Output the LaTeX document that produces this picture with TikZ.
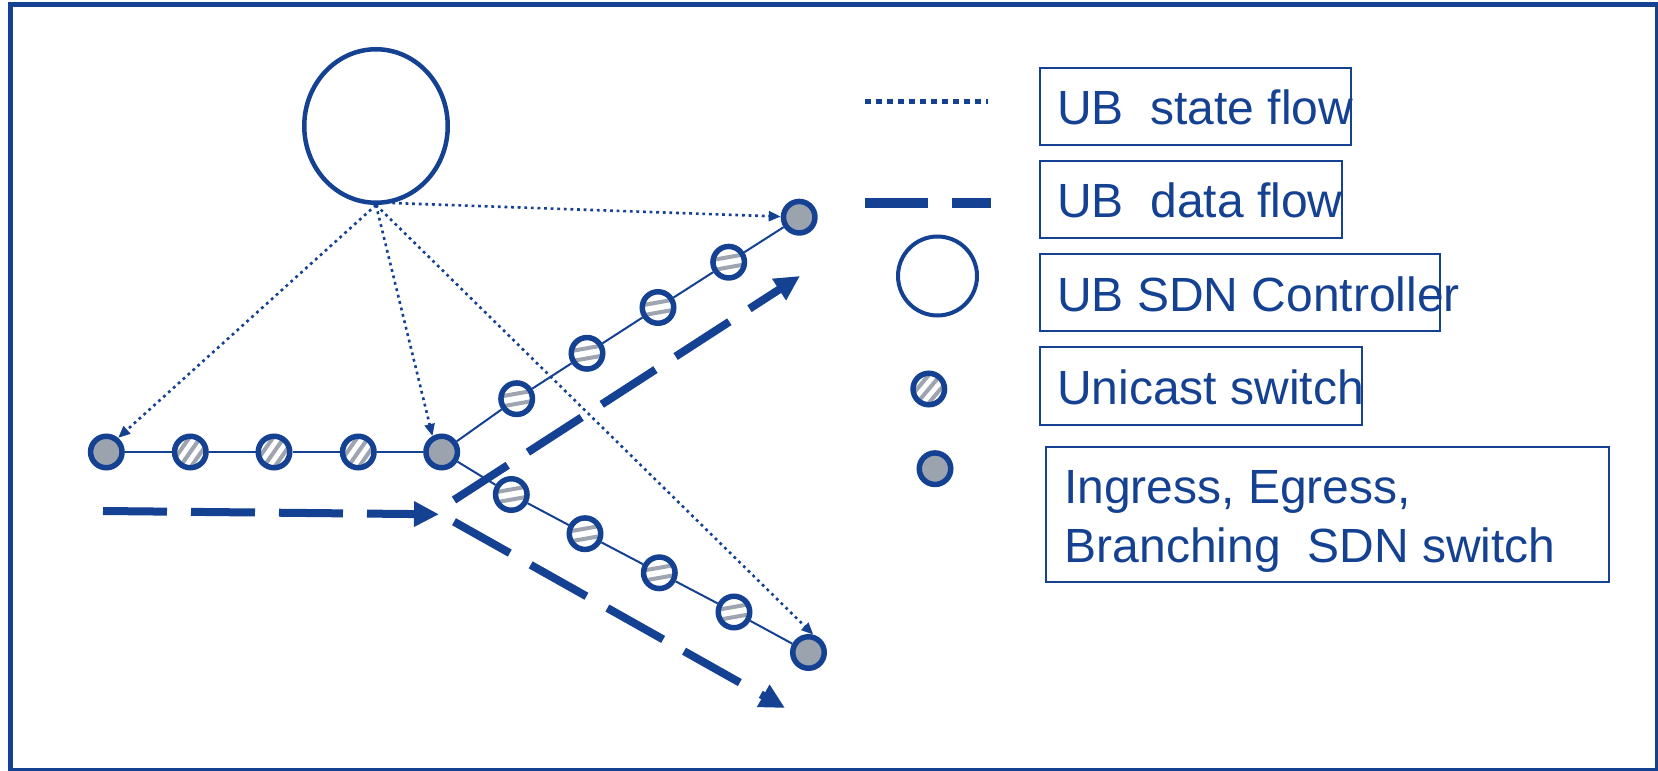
\documentclass[tikz,border=0pt]{standalone}
\usepackage{fontspec}
\setmainfont{Liberation Sans}
\usetikzlibrary{arrows.meta,shapes.geometric,calc}
\definecolor{ubblue}{RGB}{20,65,145}
\definecolor{swgray}{RGB}{155,163,174}
\definecolor{stripegray}{RGB}{158,165,176}
% gray stripes inside a unicast switch: #1 = angle, #2 = offsets of the stripes
\newcommand\swstripes[2]{%
  \foreach \k in {#2}{%
    \draw[stripegray, line width=4pt]
      ($(path picture bounding box.center)+({25*cos(#1)-\k*sin(#1)},{-25*sin(#1)-\k*cos(#1)})$) --
      ($(path picture bounding box.center)+({-25*cos(#1)-\k*sin(#1)},{25*sin(#1)-\k*cos(#1)})$);}}
\begin{document}
\begin{tikzpicture}[x=1pt, y=-1pt,
  sw/.style={circle, draw=ubblue, line width=5.5pt, minimum size=31.5pt, inner sep=0pt},
  edgesw/.style={sw, fill=swgray},
  unisw/.style 2 args={sw, fill=white, path picture={\swstripes{#1}{#2}}},
  ctrlnode/.style={ellipse, draw=ubblue, line width=4.5pt, inner sep=0pt,
    minimum width=143.5pt, minimum height=153.5pt},
  ctrlleg/.style={circle, draw=ubblue, line width=4pt, inner sep=0pt, minimum size=79pt},
  link/.style={draw=ubblue, line width=2pt},
  state/.style={draw=ubblue, line width=2.6pt, dash pattern=on 2.8pt off 3.8pt,
    -{Triangle[length=12pt, width=10pt]}},
  data/.style={draw=ubblue, line width=8pt, dash pattern=on 64pt off 24pt,
    -{Triangle[length=25pt, width=24pt]}},
  legstate/.style={draw=ubblue, line width=5pt, dash pattern=on 6pt off 5pt},
  legdata/.style={draw=ubblue, line width=10pt, dash pattern=on 63pt off 24pt},
  legbox/.style={draw=ubblue, line width=2pt},
  legtext/.style={anchor=base west, inner sep=0pt, text=ubblue,
    font=\fontsize{48}{58}\selectfont}]

\useasboundingbox (0,0) rectangle (1658,771);

% outer frame
\draw[ubblue, line width=4.7pt] (10.3,4.2) rectangle (1657,770.5);

% SDN controller
\node[ctrlnode] (ctrl) at (376,126) {};

% ingress path
\node[edgesw] (in0) at (106.3,452) {};
\node[unisw={55}{-9,0,9}] (h1) at (190.3,452) {};
\node[unisw={55}{-9,0,9}] (h2) at (274,452) {};
\node[unisw={55}{-9,0,9}] (h3) at (358.3,452) {};
\node[edgesw] (br) at (441.7,452) {};

% upper branch
\node[unisw={10}{-5,5}] (u1) at (516.7,398.7) {};
\node[unisw={10}{-5,5}] (u2) at (587,353.3) {};
\node[unisw={10}{-5,5}] (u3) at (658,307.5) {};
\node[unisw={10}{-5,5}] (u4) at (728.7,262.2) {};
\node[edgesw] (upE) at (799.2,217.2) {};

% lower branch
\node[unisw={10}{-5,5}] (d1) at (511.3,494.5) {};
\node[unisw={10}{-5,5}] (d2) at (585,533.7) {};
\node[unisw={10}{-5,5}] (d3) at (659.3,572.8) {};
\node[unisw={10}{-5,5}] (d4) at (734,612) {};
\node[edgesw] (dnE) at (808.5,652.5) {};

% links between switches
\draw[link] (in0) -- (h1) -- (h2) -- (h3) -- (br);
\draw[link] (br) -- (u1) -- (u2) -- (u3) -- (u4) -- (upE);
\draw[link] (br) -- (d1) -- (d2) -- (d3) -- (d4) -- (dnE);

% state flow from the controller
\draw[state] (ctrl.south) -- (in0.50);
\draw[state] (ctrl.south) -- (br.120);
\draw[state] (ctrl.-78) -- (upE);
\draw[state] (ctrl.south) -- (dnE.75);

% data flow
\coordinate (dfA) at (103,511);
\coordinate (dfB) at (439,514.3);
\coordinate (dfC) at (454,500);
\coordinate (dfD) at (800,276);
\coordinate (dfE) at (454,521.7);
\coordinate (dfF) at (785,708);
\draw[data] (dfA) -- (dfB);
\draw[data] (dfC) -- (dfD);
\draw[data] (dfE) -- (dfF);

% legend symbols
\coordinate (ls1) at (865,101);
\coordinate (ls2) at (988,101);
\draw[legstate] (ls1) -- (ls2);
\coordinate (ld1) at (865,203.3);
\coordinate (ld2) at (991,203.3);
\draw[legdata] (ld1) -- (ld2);
\node[ctrlleg] (lctrl) at (937.5,276) {};
\node[unisw={50}{-9,0,9}] (luni) at (928.8,389) {};
\node[edgesw] (ledge) at (935,468.7) {};

% legend boxes
\draw[legbox] (1040,68) rectangle (1351,145);
\draw[legbox] (1040,161) rectangle (1342,238);
\draw[legbox] (1040,254) rectangle (1440,331);
\draw[legbox] (1040,347) rectangle (1361.5,425);
\draw[legbox] (1045.7,446.7) rectangle (1609.4,582.3);

% legend texts
\node[legtext] (t1) at (1057,124) {UB\ \ state flow};
\node[legtext] (t2) at (1057,217.7) {UB\ \ data flow};
\node[legtext] (t3) at (1057,311) {UB SDN Controller};
\node[legtext] (t4) at (1057,404) {Unicast switch};
\node[legtext] (t5a) at (1064,503.3) {Ingress, Egress,};
\node[legtext] (t5b) at (1064.5,562.3) {Branching\ \ SDN switch};
\end{tikzpicture}
\end{document}
